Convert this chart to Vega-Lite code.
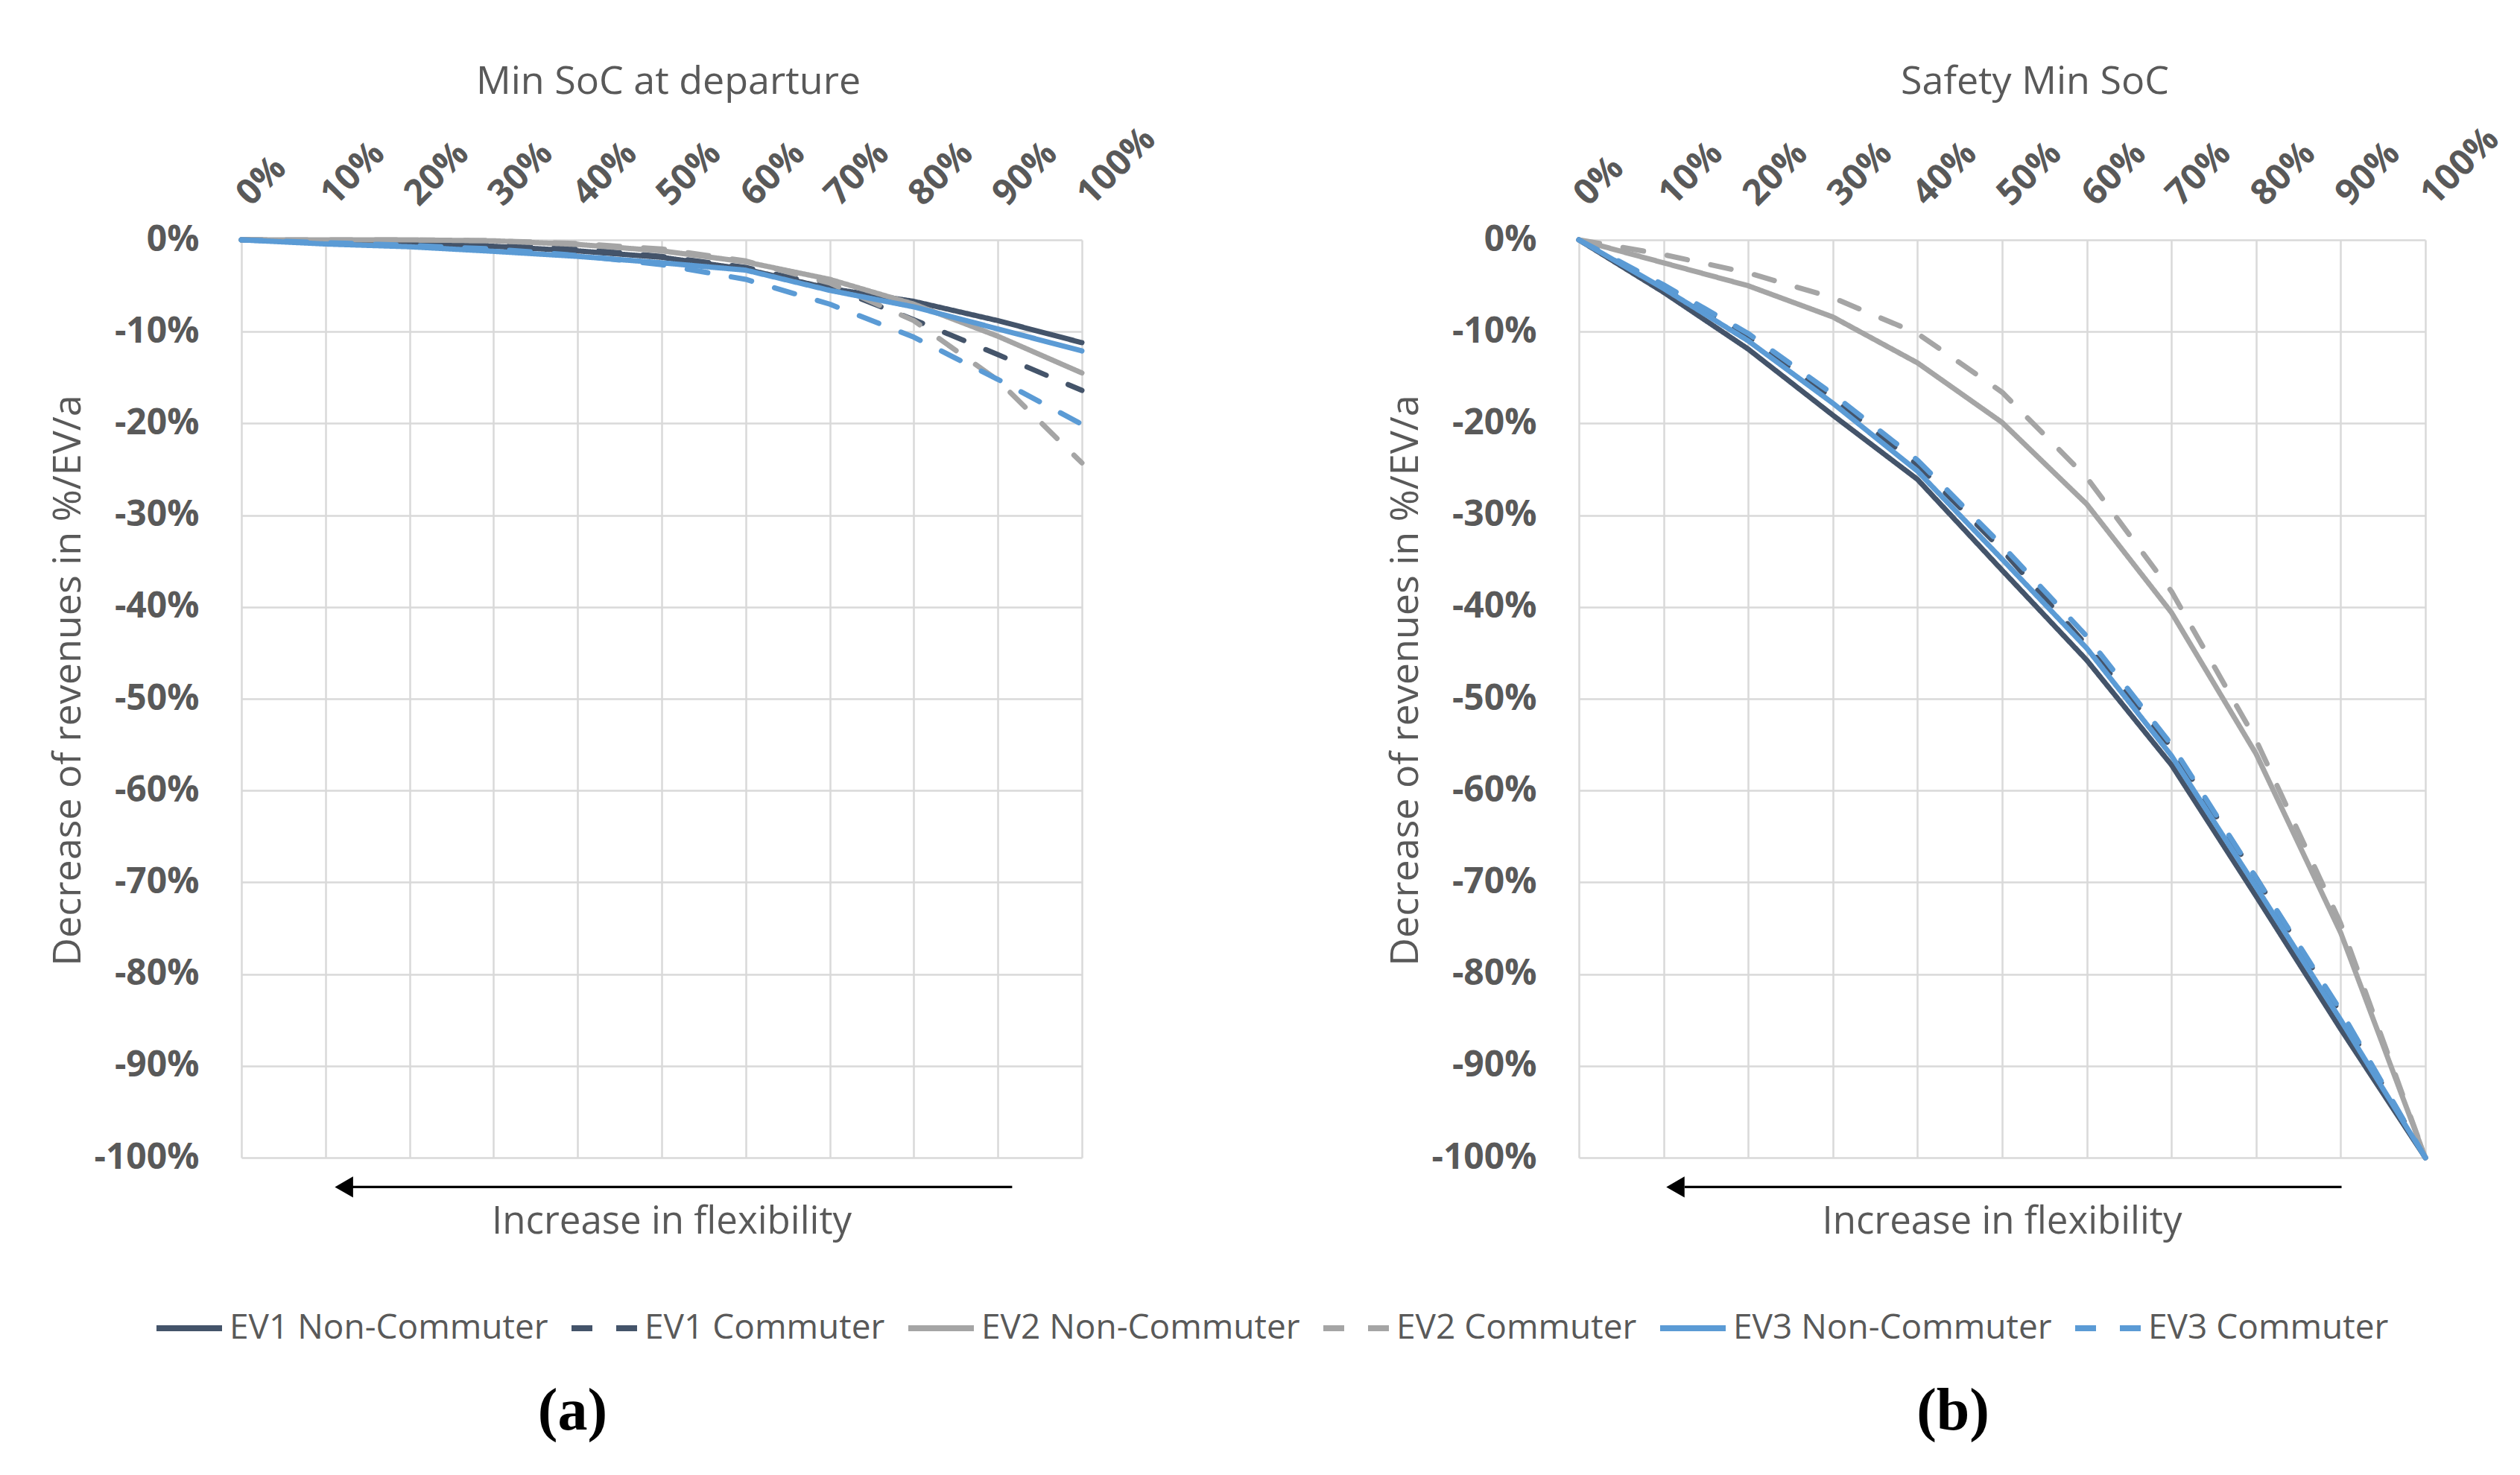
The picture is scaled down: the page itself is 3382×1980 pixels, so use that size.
{
  "$schema": "https://vega.github.io/schema/vega-lite/v6.json",
  "background": "white",
  "padding": {"left": 65, "top": 84, "right": 20, "bottom": 20},
  "bounds": "flush",
  "spacing": 667,
  "config": {
    "view": {"stroke": null},
    "font": "Open Sans",
    "axis": {"labelFont": "Open Sans", "titleFont": "Open Sans"},
    "legend": {"labelFont": "Open Sans"}
  },
  "datasets": {
    "minsoc": [
      {"series": "EV1 Non-Commuter", "x": 0, "y": 0},
      {"series": "EV1 Non-Commuter", "x": 10, "y": -0.1},
      {"series": "EV1 Non-Commuter", "x": 20, "y": -0.35},
      {"series": "EV1 Non-Commuter", "x": 30, "y": -0.7},
      {"series": "EV1 Non-Commuter", "x": 40, "y": -1.2},
      {"series": "EV1 Non-Commuter", "x": 50, "y": -1.9},
      {"series": "EV1 Non-Commuter", "x": 60, "y": -3.2},
      {"series": "EV1 Non-Commuter", "x": 70, "y": -5.3},
      {"series": "EV1 Non-Commuter", "x": 80, "y": -6.7},
      {"series": "EV1 Non-Commuter", "x": 90, "y": -8.8},
      {"series": "EV1 Non-Commuter", "x": 100, "y": -11.2},
      {"series": "EV1 Commuter", "x": 0, "y": 0},
      {"series": "EV1 Commuter", "x": 10, "y": -0.1},
      {"series": "EV1 Commuter", "x": 20, "y": -0.2},
      {"series": "EV1 Commuter", "x": 30, "y": -0.5},
      {"series": "EV1 Commuter", "x": 40, "y": -1.0},
      {"series": "EV1 Commuter", "x": 50, "y": -1.8},
      {"series": "EV1 Commuter", "x": 60, "y": -3.0},
      {"series": "EV1 Commuter", "x": 70, "y": -5.1},
      {"series": "EV1 Commuter", "x": 80, "y": -8.7},
      {"series": "EV1 Commuter", "x": 90, "y": -12.5},
      {"series": "EV1 Commuter", "x": 100, "y": -16.4},
      {"series": "EV2 Non-Commuter", "x": 0, "y": 0},
      {"series": "EV2 Non-Commuter", "x": 10, "y": 0},
      {"series": "EV2 Non-Commuter", "x": 20, "y": 0},
      {"series": "EV2 Non-Commuter", "x": 30, "y": -0.1},
      {"series": "EV2 Non-Commuter", "x": 40, "y": -0.5},
      {"series": "EV2 Non-Commuter", "x": 50, "y": -1.2},
      {"series": "EV2 Non-Commuter", "x": 60, "y": -2.4},
      {"series": "EV2 Non-Commuter", "x": 70, "y": -4.3},
      {"series": "EV2 Non-Commuter", "x": 80, "y": -7.0},
      {"series": "EV2 Non-Commuter", "x": 90, "y": -10.5},
      {"series": "EV2 Non-Commuter", "x": 100, "y": -14.5},
      {"series": "EV2 Commuter", "x": 0, "y": 0},
      {"series": "EV2 Commuter", "x": 10, "y": 0},
      {"series": "EV2 Commuter", "x": 20, "y": 0},
      {"series": "EV2 Commuter", "x": 30, "y": -0.1},
      {"series": "EV2 Commuter", "x": 40, "y": -0.4},
      {"series": "EV2 Commuter", "x": 50, "y": -1.0},
      {"series": "EV2 Commuter", "x": 60, "y": -2.3},
      {"series": "EV2 Commuter", "x": 70, "y": -4.7},
      {"series": "EV2 Commuter", "x": 80, "y": -8.8},
      {"series": "EV2 Commuter", "x": 90, "y": -15.3},
      {"series": "EV2 Commuter", "x": 100, "y": -24.3},
      {"series": "EV3 Non-Commuter", "x": 0, "y": 0},
      {"series": "EV3 Non-Commuter", "x": 10, "y": -0.45},
      {"series": "EV3 Non-Commuter", "x": 20, "y": -0.75},
      {"series": "EV3 Non-Commuter", "x": 30, "y": -1.25},
      {"series": "EV3 Non-Commuter", "x": 40, "y": -1.8},
      {"series": "EV3 Non-Commuter", "x": 50, "y": -2.5},
      {"series": "EV3 Non-Commuter", "x": 60, "y": -3.3},
      {"series": "EV3 Non-Commuter", "x": 70, "y": -5.5},
      {"series": "EV3 Non-Commuter", "x": 80, "y": -7.3},
      {"series": "EV3 Non-Commuter", "x": 90, "y": -9.7},
      {"series": "EV3 Non-Commuter", "x": 100, "y": -12.1},
      {"series": "EV3 Commuter", "x": 0, "y": 0},
      {"series": "EV3 Commuter", "x": 10, "y": -0.3},
      {"series": "EV3 Commuter", "x": 20, "y": -0.6},
      {"series": "EV3 Commuter", "x": 30, "y": -1.0},
      {"series": "EV3 Commuter", "x": 40, "y": -1.7},
      {"series": "EV3 Commuter", "x": 50, "y": -2.7},
      {"series": "EV3 Commuter", "x": 60, "y": -4.3},
      {"series": "EV3 Commuter", "x": 70, "y": -7.0},
      {"series": "EV3 Commuter", "x": 80, "y": -10.6},
      {"series": "EV3 Commuter", "x": 90, "y": -15.2},
      {"series": "EV3 Commuter", "x": 100, "y": -20.1}
    ],
    "safety": [
      {"series": "EV1 Non-Commuter", "x": 0, "y": 0},
      {"series": "EV1 Non-Commuter", "x": 10, "y": -5.7},
      {"series": "EV1 Non-Commuter", "x": 20, "y": -11.9},
      {"series": "EV1 Non-Commuter", "x": 30, "y": -19.1},
      {"series": "EV1 Non-Commuter", "x": 40, "y": -26.1},
      {"series": "EV1 Non-Commuter", "x": 50, "y": -36.0},
      {"series": "EV1 Non-Commuter", "x": 60, "y": -45.8},
      {"series": "EV1 Non-Commuter", "x": 70, "y": -57.2},
      {"series": "EV1 Non-Commuter", "x": 80, "y": -71.5},
      {"series": "EV1 Non-Commuter", "x": 90, "y": -86.0},
      {"series": "EV1 Non-Commuter", "x": 100, "y": -100},
      {"series": "EV1 Commuter", "x": 0, "y": 0},
      {"series": "EV1 Commuter", "x": 10, "y": -5.1},
      {"series": "EV1 Commuter", "x": 20, "y": -10.6},
      {"series": "EV1 Commuter", "x": 30, "y": -17.3},
      {"series": "EV1 Commuter", "x": 40, "y": -24.5},
      {"series": "EV1 Commuter", "x": 50, "y": -33.8},
      {"series": "EV1 Commuter", "x": 60, "y": -44.2},
      {"series": "EV1 Commuter", "x": 70, "y": -55.3},
      {"series": "EV1 Commuter", "x": 80, "y": -69.5},
      {"series": "EV1 Commuter", "x": 90, "y": -84.3},
      {"series": "EV1 Commuter", "x": 100, "y": -100},
      {"series": "EV2 Non-Commuter", "x": 0, "y": 0},
      {"series": "EV2 Non-Commuter", "x": 10, "y": -2.5},
      {"series": "EV2 Non-Commuter", "x": 20, "y": -5.0},
      {"series": "EV2 Non-Commuter", "x": 30, "y": -8.4},
      {"series": "EV2 Non-Commuter", "x": 40, "y": -13.4},
      {"series": "EV2 Non-Commuter", "x": 50, "y": -19.9},
      {"series": "EV2 Non-Commuter", "x": 60, "y": -28.8},
      {"series": "EV2 Non-Commuter", "x": 70, "y": -40.6},
      {"series": "EV2 Non-Commuter", "x": 80, "y": -56.0},
      {"series": "EV2 Non-Commuter", "x": 90, "y": -75.5},
      {"series": "EV2 Non-Commuter", "x": 100, "y": -100},
      {"series": "EV2 Commuter", "x": 0, "y": 0},
      {"series": "EV2 Commuter", "x": 10, "y": -1.6},
      {"series": "EV2 Commuter", "x": 20, "y": -3.6},
      {"series": "EV2 Commuter", "x": 30, "y": -6.3},
      {"series": "EV2 Commuter", "x": 40, "y": -10.2},
      {"series": "EV2 Commuter", "x": 50, "y": -16.6},
      {"series": "EV2 Commuter", "x": 60, "y": -25.9},
      {"series": "EV2 Commuter", "x": 70, "y": -38.3},
      {"series": "EV2 Commuter", "x": 80, "y": -54.5},
      {"series": "EV2 Commuter", "x": 90, "y": -74.5},
      {"series": "EV2 Commuter", "x": 100, "y": -100},
      {"series": "EV3 Non-Commuter", "x": 0, "y": 0},
      {"series": "EV3 Non-Commuter", "x": 10, "y": -5.3},
      {"series": "EV3 Non-Commuter", "x": 20, "y": -11.0},
      {"series": "EV3 Non-Commuter", "x": 30, "y": -17.8},
      {"series": "EV3 Non-Commuter", "x": 40, "y": -25.2},
      {"series": "EV3 Non-Commuter", "x": 50, "y": -34.8},
      {"series": "EV3 Non-Commuter", "x": 60, "y": -44.5},
      {"series": "EV3 Non-Commuter", "x": 70, "y": -56.2},
      {"series": "EV3 Non-Commuter", "x": 80, "y": -70.5},
      {"series": "EV3 Non-Commuter", "x": 90, "y": -85.0},
      {"series": "EV3 Non-Commuter", "x": 100, "y": -100},
      {"series": "EV3 Commuter", "x": 0, "y": 0},
      {"series": "EV3 Commuter", "x": 10, "y": -4.9},
      {"series": "EV3 Commuter", "x": 20, "y": -10.2},
      {"series": "EV3 Commuter", "x": 30, "y": -16.8},
      {"series": "EV3 Commuter", "x": 40, "y": -24.0},
      {"series": "EV3 Commuter", "x": 50, "y": -33.3},
      {"series": "EV3 Commuter", "x": 60, "y": -43.2},
      {"series": "EV3 Commuter", "x": 70, "y": -55.0},
      {"series": "EV3 Commuter", "x": 80, "y": -69.5},
      {"series": "EV3 Commuter", "x": 90, "y": -84.0},
      {"series": "EV3 Commuter", "x": 100, "y": -100}
    ]
  },
  "hconcat": [
    {
      "width": 1128,
      "height": 1232,
      "title": {"text": "Min SoC at departure", "fontSize": 52, "fontWeight": "normal", "color": "#595959", "offset": 25, "dx": 9},
      "layer": [
        {
          "data": {"name": "minsoc"},
          "mark": {"type": "line", "strokeWidth": 7, "strokeCap": "round", "strokeJoin": "round"},
          "encoding": {
            "x": {"field": "x", "type": "quantitative",
              "scale": {"domain": [0, 100], "nice": false, "zero": false},
              "axis": {"orient": "top", "values": [0, 10, 20, 30, 40, 50, 60, 70, 80, 90, 100], "labelExpr": "datum.value + '%'",
                "labelAngle": -45, "labelAlign": "left", "labelBaseline": "middle", "labelOffset": 2, "labelFontWeight": "bold", "labelFontSize": 48,
                "labelColor": "#595959", "labelPadding": 54, "ticks": false, "tickSize": 0, "domain": false, "grid": true,
                "gridColor": "#D9D9D9", "gridWidth": 2.5, "title": null, "labelFlush": false, "labelOverlap": false, "labelBound": false}},
            "y": {"field": "y", "type": "quantitative",
              "scale": {"domain": [-100, 0], "nice": false, "zero": false},
              "axis": {"values": [0, -10, -20, -30, -40, -50, -60, -70, -80, -90, -100], "labelExpr": "datum.value + '%'",
                "labelFontWeight": "bold", "labelFontSize": 48, "labelColor": "#595959", "labelPadding": 57, "ticks": false, "tickSize": 0,
                "domain": false, "grid": true, "gridColor": "#D9D9D9", "gridWidth": 2.5, "labelFlush": false, "labelOverlap": false,
                "title": "Decrease of revenues in %/EV/a", "titleFontSize": 52, "titleFontWeight": "normal", "titleColor": "#595959", "titlePadding": 7, "titleY": 591}},
            "color": {"field": "series", "type": "nominal",
              "scale": {"domain": ["EV1 Non-Commuter", "EV1 Commuter", "EV2 Non-Commuter", "EV2 Commuter", "EV3 Non-Commuter", "EV3 Commuter"],
                "range": ["#44546A", "#44546A", "#A5A5A5", "#A5A5A5", "#5B9BD5", "#5B9BD5"]},
              "legend": {"orient": "none", "legendX": -118, "legendY": 1413, "direction": "horizontal", "columns": 6, "title": null,
                "symbolType": "stroke", "symbolSize": 7744, "symbolStrokeWidth": 8, "labelFontSize": 46, "labelColor": "#595959",
                "labelOffset": 6, "columnPadding": 15, "labelLimit": 1000}},
            "strokeDash": {"field": "series", "type": "nominal",
              "scale": {"domain": ["EV1 Non-Commuter", "EV1 Commuter", "EV2 Non-Commuter", "EV2 Commuter", "EV3 Non-Commuter", "EV3 Commuter"],
                "range": [[1, 0], [28, 32], [1, 0], [28, 32], [1, 0], [28, 32]]},
              "legend": {"orient": "none", "legendX": -118, "legendY": 1413, "direction": "horizontal", "columns": 6, "title": null,
                "symbolType": "stroke", "symbolSize": 7744, "symbolStrokeWidth": 8, "labelFontSize": 46, "labelColor": "#595959",
                "labelOffset": 6, "columnPadding": 15, "labelLimit": 1000}}
          }
        },
        {
          "data": {"values": [{"x": 13, "x2": 91.7, "y": -103.2}]},
          "mark": {"type": "rule", "strokeWidth": 3.3, "color": "black"},
          "encoding": {
            "x": {"field": "x", "type": "quantitative"},
            "x2": {"field": "x2"},
            "y": {"field": "y", "type": "quantitative"}
          }
        },
        {
          "data": {"values": [{"x": 12.2, "y": -103.2}]},
          "mark": {"type": "point", "shape": "triangle-left", "filled": true, "color": "black", "size": 800, "opacity": 1},
          "encoding": {
            "x": {"field": "x", "type": "quantitative"},
            "y": {"field": "y", "type": "quantitative"}
          }
        },
        {
          "data": {"values": [{"x": 51.2, "y": -107.1, "label": "Increase in flexibility"}]},
          "mark": {"type": "text", "fontSize": 51, "color": "#595959", "baseline": "middle", "align": "center"},
          "encoding": {
            "x": {"field": "x", "type": "quantitative"},
            "y": {"field": "y", "type": "quantitative"},
            "text": {"field": "label"}
          }
        },
        {
          "data": {"values": [{"x": 39.4, "y": -127.7, "label": "(a)"}]},
          "mark": {"type": "text", "font": "Liberation Serif", "fontWeight": "bold", "fontSize": 80, "color": "black", "baseline": "middle", "align": "center"},
          "encoding": {
            "x": {"field": "x", "type": "quantitative"},
            "y": {"field": "y", "type": "quantitative"},
            "text": {"field": "label"}
          }
        }
      ]
    },
    {
      "width": 1136,
      "height": 1232,
      "title": {"text": "Safety Min SoC", "fontSize": 52, "fontWeight": "normal", "color": "#595959", "offset": 25, "dx": 44},
      "layer": [
        {
          "data": {"name": "safety"},
          "mark": {"type": "line", "strokeWidth": 7, "strokeCap": "round", "strokeJoin": "round"},
          "encoding": {
            "x": {"field": "x", "type": "quantitative",
              "scale": {"domain": [0, 100], "nice": false, "zero": false},
              "axis": {"orient": "top", "values": [0, 10, 20, 30, 40, 50, 60, 70, 80, 90, 100], "labelExpr": "datum.value + '%'",
                "labelAngle": -45, "labelAlign": "left", "labelBaseline": "middle", "labelOffset": 2, "labelFontWeight": "bold", "labelFontSize": 48,
                "labelColor": "#595959", "labelPadding": 54, "ticks": false, "tickSize": 0, "domain": false, "grid": true,
                "gridColor": "#D9D9D9", "gridWidth": 2.5, "title": null, "labelFlush": false, "labelOverlap": false, "labelBound": false}},
            "y": {"field": "y", "type": "quantitative",
              "scale": {"domain": [-100, 0], "nice": false, "zero": false},
              "axis": {"values": [0, -10, -20, -30, -40, -50, -60, -70, -80, -90, -100], "labelExpr": "datum.value + '%'",
                "labelFontWeight": "bold", "labelFontSize": 48, "labelColor": "#595959", "labelPadding": 57, "ticks": false, "tickSize": 0,
                "domain": false, "grid": true, "gridColor": "#D9D9D9", "gridWidth": 2.5, "labelFlush": false, "labelOverlap": false,
                "title": "Decrease of revenues in %/EV/a", "titleFontSize": 52, "titleFontWeight": "normal", "titleColor": "#595959", "titlePadding": 7, "titleY": 591}},
            "color": {"field": "series", "type": "nominal",
              "scale": {"domain": ["EV1 Non-Commuter", "EV1 Commuter", "EV2 Non-Commuter", "EV2 Commuter", "EV3 Non-Commuter", "EV3 Commuter"],
                "range": ["#44546A", "#44546A", "#A5A5A5", "#A5A5A5", "#5B9BD5", "#5B9BD5"]},
              "legend": {"orient": "none", "legendX": -118, "legendY": 1413, "direction": "horizontal", "columns": 6, "title": null,
                "symbolType": "stroke", "symbolSize": 7744, "symbolStrokeWidth": 8, "labelFontSize": 46, "labelColor": "#595959",
                "labelOffset": 6, "columnPadding": 15, "labelLimit": 1000}},
            "strokeDash": {"field": "series", "type": "nominal",
              "scale": {"domain": ["EV1 Non-Commuter", "EV1 Commuter", "EV2 Non-Commuter", "EV2 Commuter", "EV3 Non-Commuter", "EV3 Commuter"],
                "range": [[1, 0], [28, 32], [1, 0], [28, 32], [1, 0], [28, 32]]},
              "legend": {"orient": "none", "legendX": -118, "legendY": 1413, "direction": "horizontal", "columns": 6, "title": null,
                "symbolType": "stroke", "symbolSize": 7744, "symbolStrokeWidth": 8, "labelFontSize": 46, "labelColor": "#595959",
                "labelOffset": 6, "columnPadding": 15, "labelLimit": 1000}}
          }
        },
        {
          "data": {"values": [{"x": 12.5, "x2": 90.1, "y": -103.2}]},
          "mark": {"type": "rule", "strokeWidth": 3.3, "color": "black"},
          "encoding": {
            "x": {"field": "x", "type": "quantitative"},
            "x2": {"field": "x2"},
            "y": {"field": "y", "type": "quantitative"}
          }
        },
        {
          "data": {"values": [{"x": 11.4, "y": -103.2}]},
          "mark": {"type": "point", "shape": "triangle-left", "filled": true, "color": "black", "size": 800, "opacity": 1},
          "encoding": {
            "x": {"field": "x", "type": "quantitative"},
            "y": {"field": "y", "type": "quantitative"}
          }
        },
        {
          "data": {"values": [{"x": 50, "y": -107.1, "label": "Increase in flexibility"}]},
          "mark": {"type": "text", "fontSize": 51, "color": "#595959", "baseline": "middle", "align": "center"},
          "encoding": {
            "x": {"field": "x", "type": "quantitative"},
            "y": {"field": "y", "type": "quantitative"},
            "text": {"field": "label"}
          }
        },
        {
          "data": {"values": [{"x": 44.2, "y": -127.7, "label": "(b)"}]},
          "mark": {"type": "text", "font": "Liberation Serif", "fontWeight": "bold", "fontSize": 80, "color": "black", "baseline": "middle", "align": "center"},
          "encoding": {
            "x": {"field": "x", "type": "quantitative"},
            "y": {"field": "y", "type": "quantitative"},
            "text": {"field": "label"}
          }
        }
      ]
    }
  ],
  "resolve": {"scale": {"color": "shared", "strokeDash": "shared"}}
}
